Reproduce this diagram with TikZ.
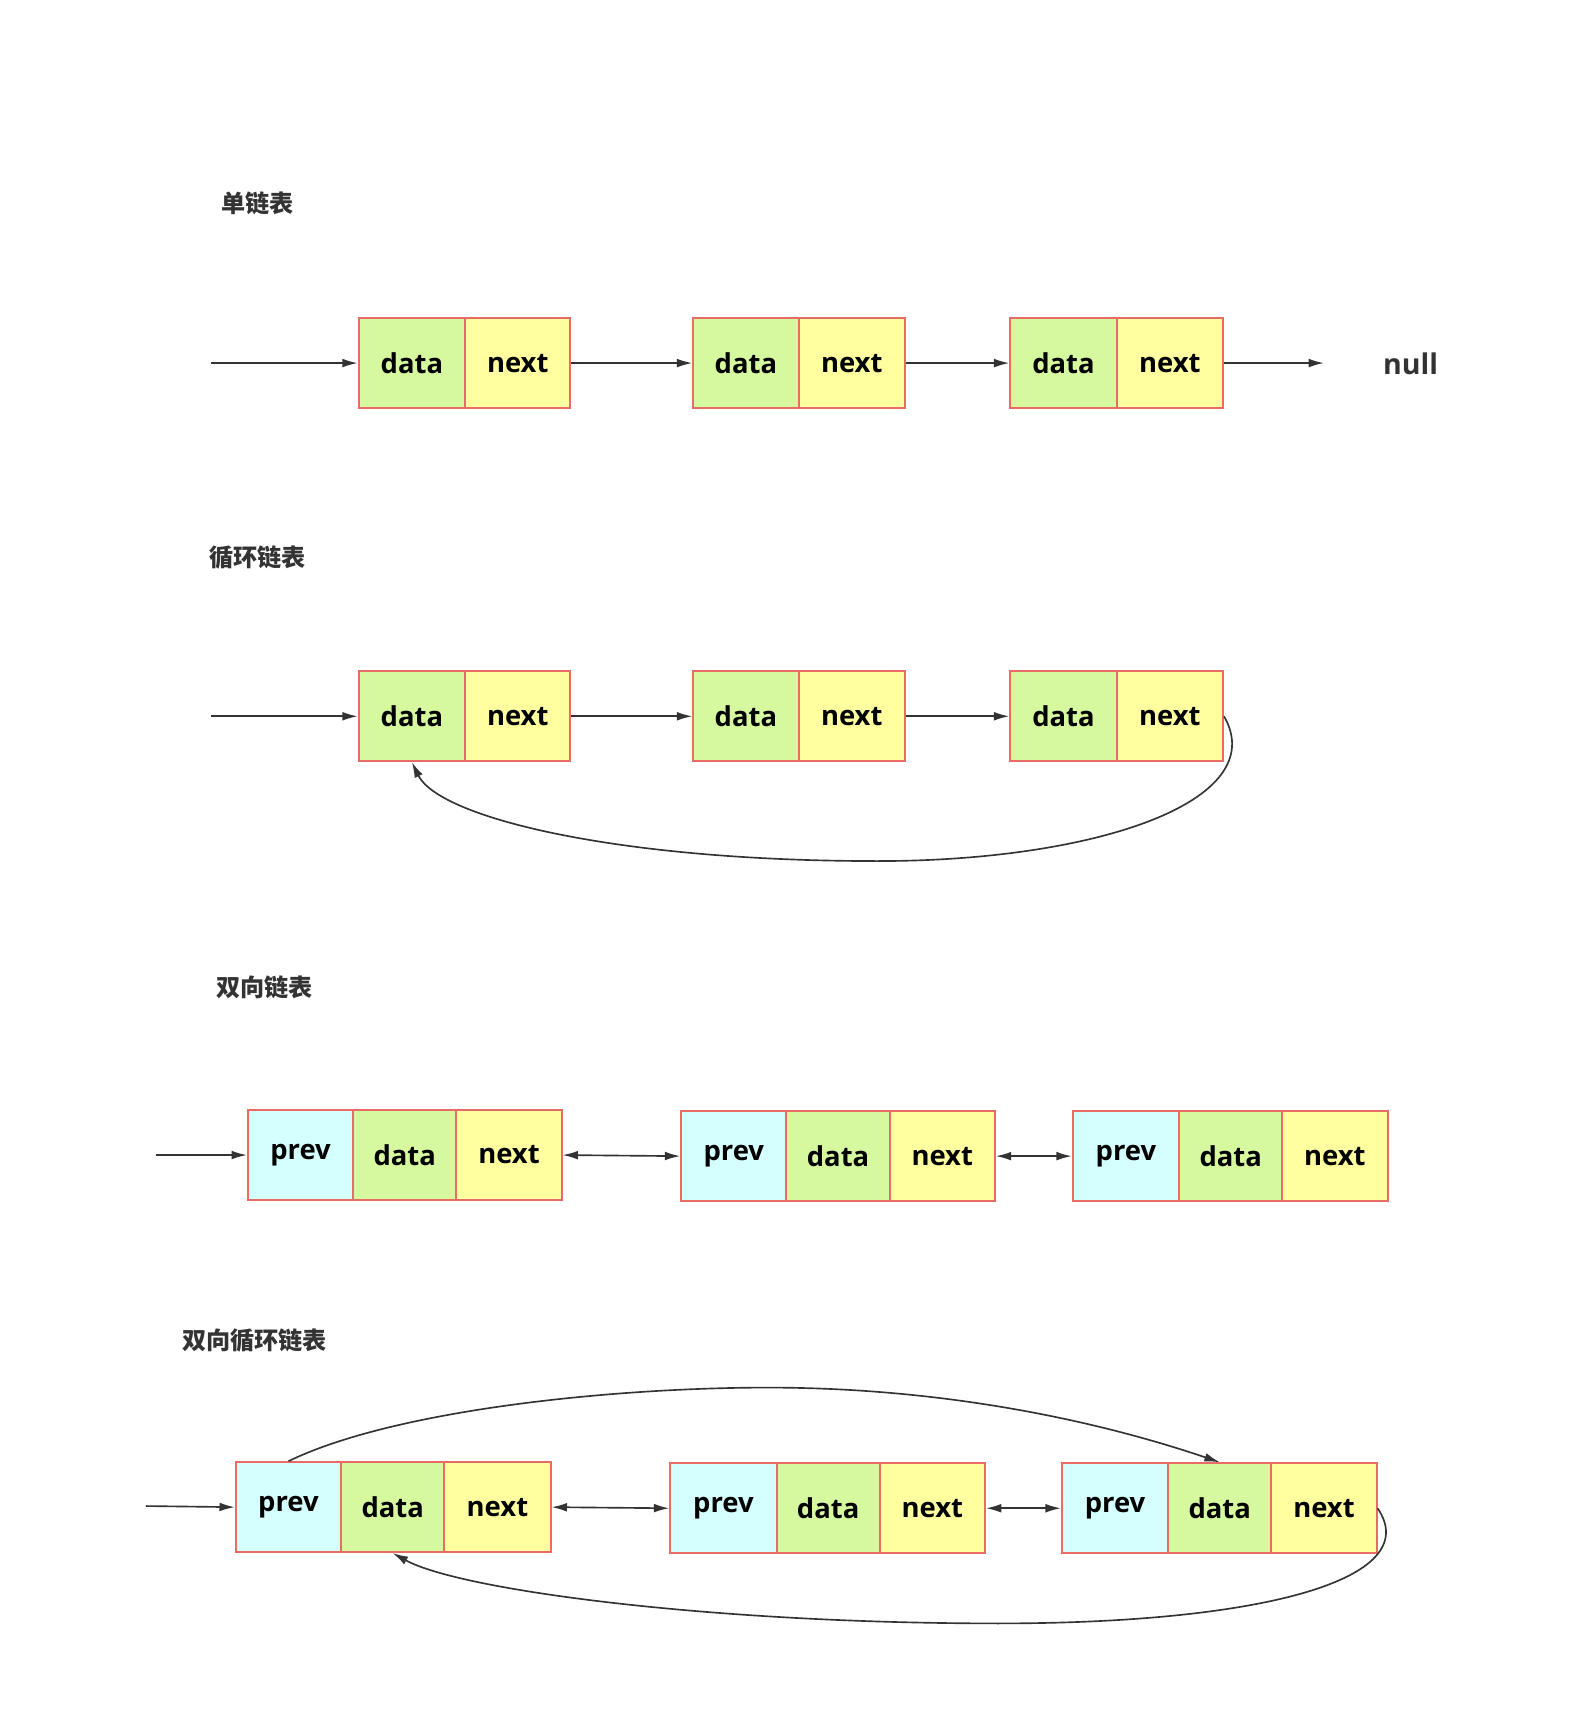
\documentclass[tikz,border=0pt]{standalone}
\usepackage{fontspec}
\setmainfont{Open Sans}
\newfontfamily\cjk{Noto Sans CJK SC}
\usetikzlibrary{arrows.meta}
\definecolor{bord}{HTML}{EA6B66}
\definecolor{cprev}{HTML}{D5FFFF}
\definecolor{cdata}{HTML}{D6F9A0}
\definecolor{cnext}{HTML}{FFFFA0}
\definecolor{ink}{HTML}{333333}
\tikzset{
 cell/.style={draw=bord,line width=1.8pt,minimum height=82pt,inner sep=0pt,font=\fontsize{25}{28}\selectfont\bfseries,text=black},
 pv/.style={cell,fill=cprev},
 dt/.style={cell,fill=cdata},
 nx/.style={cell,fill=cnext},
 ttl/.style={font=\cjk\fontsize{22}{24}\selectfont\bfseries,text=ink},
 arr/.style={draw=ink,line width=1.5pt,-{Latex[length=14pt,width=8pt]}},
 darr/.style={draw=ink,line width=1.5pt,{Latex[length=14pt,width=8pt]}-{Latex[length=14pt,width=8pt]}},
}
\begin{document}
\begin{tikzpicture}[x=1pt,y=-1pt]
\useasboundingbox (0,0) rectangle (1440,1579);
% ---- section 1
\node[ttl] (t1) at (235,185) {单链表};
\foreach \n/\a/\b/\c in {1/327/424/520,2/632/728/825,3/921/1018/1115}{
 \node[dt,minimum width=\b-\a] (s1d\n) at ({(\a+\b)/2},331) {data};
 \node[nx,minimum width=\c-\b] (s1n\n) at ({(\b+\c)/2},331) {next};
}
\coordinate (s1in) at (192,331);
\node[font=\fontsize{26}{28}\selectfont\bfseries,text=ink] (null) at (1286,332) {null};
\draw[arr] (s1in) -- (s1d1.west);
\draw[arr] (s1n1.east) -- (s1d2.west);
\draw[arr] (s1n2.east) -- (s1d3.west);
\draw[arr] (s1n3.east) -- (1207,331);
% ---- section 2
\node[ttl] (t2) at (235,508) {循环链表};
\foreach \n/\a/\b/\c in {1/327/424/520,2/632/728/825,3/921/1018/1115}{
 \node[dt,minimum width=\b-\a] (s2d\n) at ({(\a+\b)/2},653) {data};
 \node[nx,minimum width=\c-\b] (s2n\n) at ({(\b+\c)/2},653) {next};
}
\coordinate (s2in) at (192,653);
\draw[arr] (s2in) -- (s2d1.west);
\draw[arr] (s2n1.east) -- (s2d2.west);
\draw[arr] (s2n2.east) -- (s2d3.west);
\draw[arr] (s2n3.east) .. controls (1160,730) and (1000,785) .. (800,785)
  .. controls (560,785) and (400,745) .. (s2d1.south);
% ---- section 3
\node[ttl] (t3) at (241,900) {双向链表};
\foreach \n/\a/\b/\c/\d/\y in {1/226/322/416/512/1053,2/621/717/811/907/1054,3/978/1075/1169/1265/1054}{
 \node[pv,minimum width=\b-\a] (s3p\n) at ({(\a+\b)/2},\y) {prev};
 \node[dt,minimum width=\c-\b] (s3d\n) at ({(\b+\c)/2},\y) {data};
 \node[nx,minimum width=\d-\c] (s3n\n) at ({(\c+\d)/2},\y) {next};
}
\coordinate (s3in) at (142,1053);
\draw[arr] (s3in) -- (s3p1.west);
\draw[darr] (s3n1.east) -- (s3p2.west);
\draw[darr] (s3n2.east) -- (s3p3.west);
% ---- section 4
\node[ttl] (t4) at (232,1222) {双向循环链表};
\foreach \n/\a/\b/\c/\d/\y in {1/215/311/405/502/1374,2/611/708/802/898/1375,3/968/1065/1159/1255/1375}{
 \node[pv,minimum width=\b-\a] (s4p\n) at ({(\a+\b)/2},\y) {prev};
 \node[dt,minimum width=\c-\b] (s4d\n) at ({(\b+\c)/2},\y) {data};
 \node[nx,minimum width=\d-\c] (s4n\n) at ({(\c+\d)/2},\y) {next};
}
\coordinate (s4in) at (133,1373);
\draw[arr] (s4in) -- (s4p1.west);
\draw[darr] (s4n1.east) -- (s4p2.west);
\draw[darr] (s4n2.east) -- (s4p3.west);
\draw[arr] (s4p1.north) .. controls (360,1285) and (560,1265) .. (700,1265)
  .. controls (860,1265) and (1000,1295) .. (s4d3.north);
\draw[arr] (s4n3.east) .. controls (1300,1440) and (1150,1480) .. (910,1480)
  .. controls (650,1480) and (420,1450) .. (s4d1.south);
\end{tikzpicture}
\end{document}
